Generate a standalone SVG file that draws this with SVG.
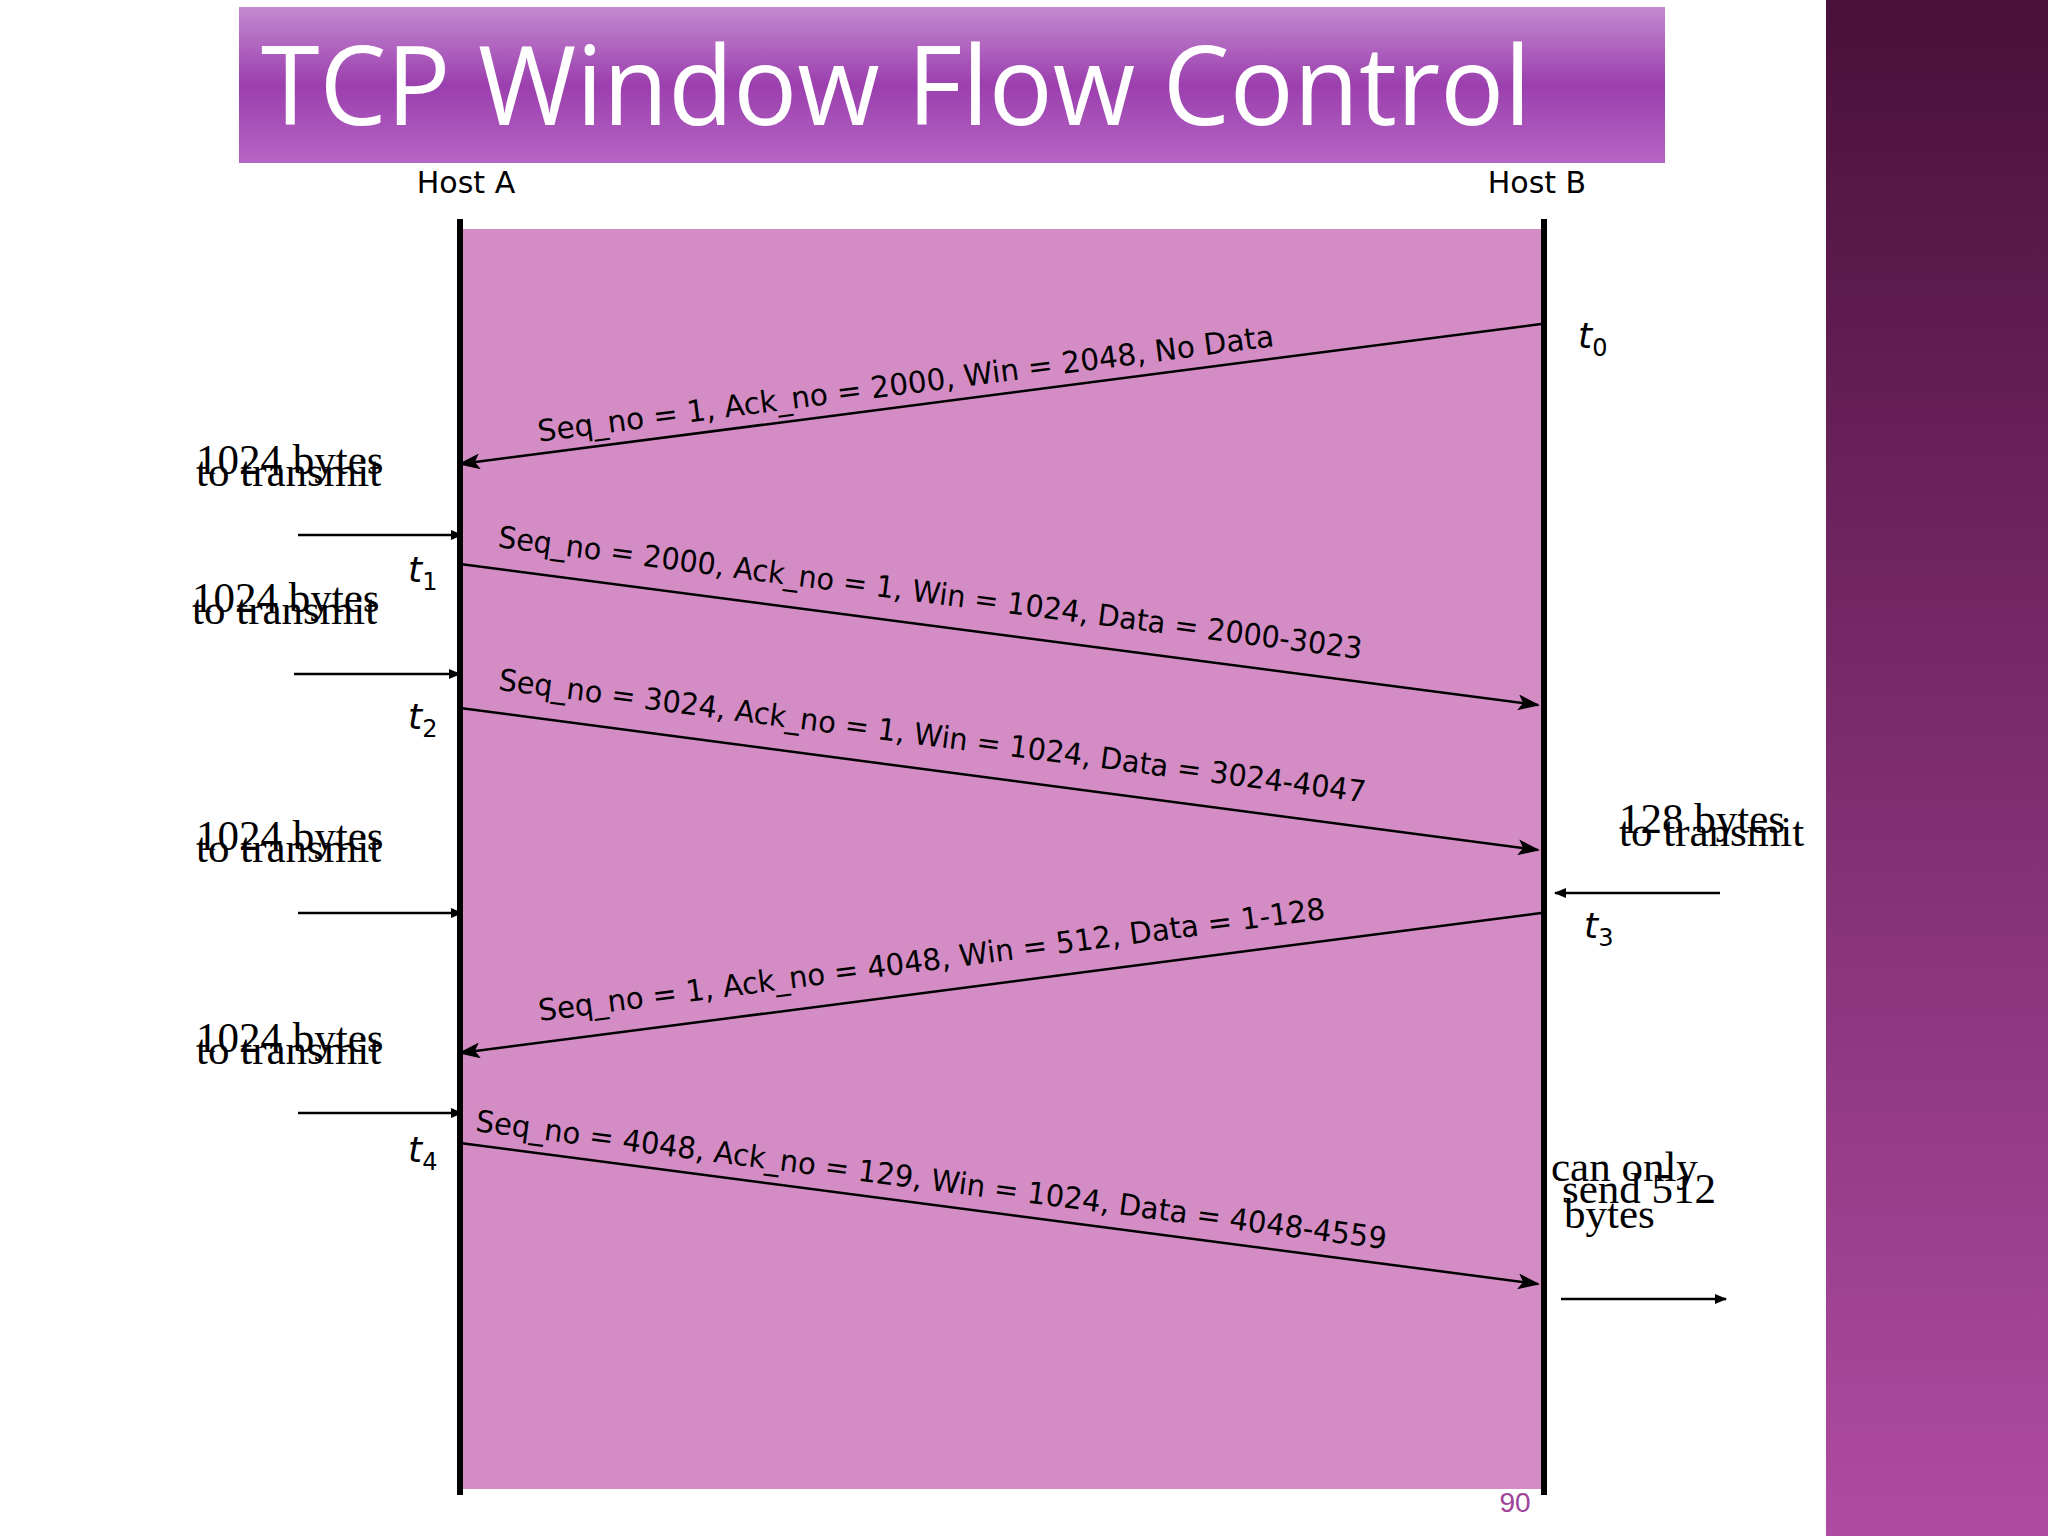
<svg xmlns="http://www.w3.org/2000/svg" width="2048" height="1536" viewBox="0 0 2048 1536">
<defs>
<linearGradient id="band" x1="0" y1="0" x2="0" y2="1"><stop offset="0" stop-color="#4a0f3a"/><stop offset="1" stop-color="#b04ba3"/></linearGradient>
<linearGradient id="title" x1="0" y1="0" x2="0" y2="1"><stop offset="0" stop-color="#c48ad0"/><stop offset="0.5" stop-color="#9b3fae"/><stop offset="1" stop-color="#b565c4"/></linearGradient>
<marker id="ah" markerWidth="12" markerHeight="10" refX="11" refY="5" orient="auto" markerUnits="userSpaceOnUse" viewBox="0 0 12 10"><path d="M0,0 L12,5 L0,10 z" fill="#000"/></marker>
<marker id="ahb" markerWidth="22" markerHeight="16" refX="20" refY="8" orient="auto" markerUnits="userSpaceOnUse" viewBox="0 0 22 16"><path d="M0,0 L22,8 L0,16 L5,8 z" fill="#000"/></marker>
</defs>
<style>
.lbl{font-family:"DejaVu Sans",sans-serif;font-size:30px;fill:#000}
.srf{font-family:"Liberation Serif",serif;font-size:43px;fill:#000}
.t{font-family:"DejaVu Sans",sans-serif;font-style:italic;font-size:36px}
.sub{font-size:24px;font-style:normal}
.msg{stroke:#000;stroke-width:2.5;marker-end:url(#ahb)}
.sm{stroke:#000;stroke-width:2.5;marker-end:url(#ah)}
</style>
<rect width="2048" height="1536" fill="#fff"/>
<rect x="1826" y="0" width="222" height="1536" fill="url(#band)"/>
<g id="title-banner"><rect x="239" y="7" width="1426" height="156" fill="url(#title)"/>
<text x="261" y="125" font-family="Open Sans, DejaVu Sans, sans-serif" font-size="110" fill="#fff" textLength="1270" lengthAdjust="spacingAndGlyphs">TCP Window Flow Control</text></g>
<rect x="460" y="229" width="1084" height="1260" fill="#d48cc4"/>
<g id="hostA"><line x1="460" y1="219" x2="460" y2="1495" stroke="#000" stroke-width="6"/><text x="466" y="193" class="lbl" text-anchor="middle" font-size="35">Host A</text></g>
<g id="hostB"><line x1="1544" y1="219" x2="1544" y2="1495" stroke="#000" stroke-width="6"/><text x="1537" y="193" class="lbl" text-anchor="middle" font-size="35">Host B</text></g>
<g id="connectors">
<line class="msg" x1="1541" y1="324" x2="460" y2="464"/>
<line class="msg" x1="460" y1="564" x2="1538" y2="705"/>
<line class="msg" x1="460" y1="708" x2="1538" y2="850"/>
<line class="msg" x1="1541" y1="913" x2="460" y2="1053"/>
<line class="msg" x1="460" y1="1143" x2="1538" y2="1284"/>
<line class="sm" x1="298" y1="535" x2="462" y2="535"/>
<line class="sm" x1="294" y1="674" x2="460" y2="674"/>
<line class="sm" x1="298" y1="913" x2="462" y2="913"/>
<line class="sm" x1="298" y1="1113" x2="462" y2="1113"/>
<line class="sm" x1="1720" y1="893" x2="1555" y2="893"/>
<line class="sm" x1="1561" y1="1299" x2="1726" y2="1299"/>
</g>
<g id="labels">
<text class="lbl" transform="translate(907,394) rotate(-7.4)" text-anchor="middle" textLength="742" lengthAdjust="spacingAndGlyphs">Seq_no = 1, Ack_no = 2000, Win = 2048, No Data</text>
<text class="lbl" transform="translate(929,603) rotate(7.4)" text-anchor="middle" textLength="871" lengthAdjust="spacingAndGlyphs">Seq_no = 2000, Ack_no = 1, Win = 1024, Data = 2000-3023</text>
<text class="lbl" transform="translate(931,746) rotate(7.4)" text-anchor="middle" textLength="874" lengthAdjust="spacingAndGlyphs">Seq_no = 3024, Ack_no = 1, Win = 1024, Data = 3024-4047</text>
<text class="lbl" transform="translate(933,970) rotate(-7.4)" text-anchor="middle" textLength="793" lengthAdjust="spacingAndGlyphs">Seq_no = 1, Ack_no = 4048, Win = 512, Data = 1-128</text>
<text class="lbl" transform="translate(930,1190) rotate(7.4)" text-anchor="middle" textLength="918" lengthAdjust="spacingAndGlyphs">Seq_no = 4048, Ack_no = 129, Win = 1024, Data = 4048-4559</text>
</g>
<g id="times">
<text class="t" x="1578" y="348">t<tspan class="sub" dy="8">0</tspan></text>
<text class="t" x="408" y="582">t<tspan class="sub" dy="8">1</tspan></text>
<text class="t" x="408" y="729">t<tspan class="sub" dy="8">2</tspan></text>
<text class="t" x="1584" y="938">t<tspan class="sub" dy="8">3</tspan></text>
<text class="t" x="408" y="1162">t<tspan class="sub" dy="8">4</tspan></text>
</g>
<g id="notes">
<text class="srf" x="196" y="474">1024 bytes</text><text class="srf" x="196" y="486">to transmit</text>
<text class="srf" x="192" y="612">1024 bytes</text><text class="srf" x="192" y="624">to transmit</text>
<text class="srf" x="196" y="850">1024 bytes</text><text class="srf" x="196" y="862">to transmit</text>
<text class="srf" x="196" y="1052">1024 bytes</text><text class="srf" x="196" y="1064">to transmit</text>
<text class="srf" x="1619" y="833">128 bytes</text><text class="srf" x="1619" y="846">to transmit</text>
<text class="srf" x="1551" y="1181">can only</text><text class="srf" x="1562" y="1203">send 512</text><text class="srf" x="1564" y="1228">bytes</text>
</g>
<text x="1515" y="1512" font-family="Liberation Sans, sans-serif" font-size="28" fill="#a0449a" text-anchor="middle">90</text>
</svg>
